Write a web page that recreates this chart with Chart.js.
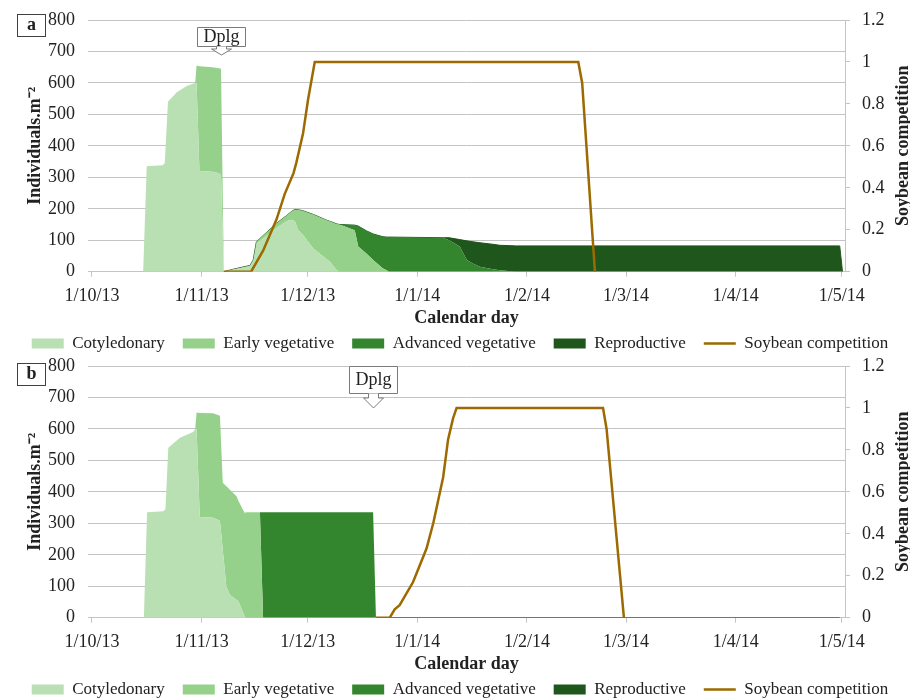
<!DOCTYPE html>
<html>
<head>
<meta charset="utf-8">
<script src="https://cdn.jsdelivr.net/npm/chart.js@4.4.1/dist/chart.umd.min.js"></script>
<style>
  html, body { margin: 0; padding: 0; background: #fff; overflow: hidden; }
  .panel { position: absolute; left: 0; width: 910px; height: 362px; }
  #panelA { top: 0; }
  #panelB { top: 346px; }
</style>
</head>
<body>
<div class="panel" id="panelA"><canvas id="chartA"></canvas></div>
<div class="panel" id="panelB"><canvas id="chartB"></canvas></div>
<script>
// x values are days since 1 Oct 2013
const monthDays = [0, 31, 61, 92, 123, 151, 182, 212];
const monthLabels = ['1/10/13', '1/11/13', '1/12/13', '1/1/14', '1/2/14', '1/3/14', '1/4/14', '1/5/14'];
const stageNames = ['Cotyledonary', 'Early vegetative', 'Advanced vegetative', 'Reproductive'];
const competitionName = 'Soybean competition';

// panel a
const daysA = [0, 14.5, 15.5, 20, 20.6, 21.5, 24, 26.8, 29.2, 29.6, 30.4, 34, 35, 36.5, 37.3, 40, 44.7, 45.6, 46.5, 52.2,
  55, 56.5, 57.4, 58.3, 59.6, 62.6, 66.3, 67.3, 69.2, 70, 74.3, 75.3, 77.6, 79.5, 82.3, 83.3, 84, 99.3, 101, 104,
  106, 107.8, 109.7, 113.4, 115.3, 120, 211.4, 212.2];
const cotA = [0, 0, 335, 338, 345, 540, 570, 590, 600, 600, 320, 318, 316, 310, 0, 8, 18, 35, 88, 140,
  160, 165, 160, 132, 118, 74, 40, 32, 5, 0, 0, 0, 0, 0, 0, 0, 0, 0, 0, 0,
  0, 0, 0, 0, 0, 0, 0, 0];
const earlyA = [0, 0, 0, 0, 0, 0, 0, 0, 0, 55, 333, 332, 332, 335, 0, 0, 2, 2, 7, 14,
  18, 27, 38, 65, 76, 108, 124, 128, 147, 150, 132, 80, 58, 37, 10, 5, 0, 0, 0, 0,
  0, 0, 0, 0, 0, 0, 0, 0];
const advA = [0, 0, 0, 0, 0, 0, 0, 0, 0, 0, 0, 0, 0, 0, 0, 0, 0, 0, 0, 0,
  0, 0, 0, 0, 0, 0, 0, 0, 0, 0, 16, 65, 72, 83, 101, 105, 110, 108, 100, 80,
  37, 25, 16, 8, 5, 0, 0, 0];
const repA = [null, null, null, null, null, null, null, null, null, null, null, null, null, null, 0, 0, 0, 0, 0, 0,
  0, 0, 0, 0, 0, 0, 0, 0, 0, 0, 0, 0, 0, 0, 0, 0, 0, 0, 8, 22,
  61, 70, 76, 79, 79, 82, 82, 0];
const compDaysA = [37.3, 45, 48.4, 52.2, 54.5, 57, 57.8, 59.7, 61.1, 63, 137.5, 138.6, 142.2];
const compA = [0, 0, 0.1, 0.25, 0.37, 0.47, 0.52, 0.66, 0.82, 1, 1, 0.9, 0];

// panel b
const daysB = [0, 14.7, 15.6, 20.2, 20.8, 21.6, 24.9, 28.6, 29.2, 29.6, 30.5, 34.3, 36.2, 37, 38, 38.5, 39, 40.9, 41.4, 43.2,
  43.6, 47.5, 48.4, 79.5, 80.3, 211.4];
const cotB = [0, 0, 335, 338, 345, 540, 572, 590, 600, 600, 320, 318, 308, 216, 100, 86, 73, 56, 52, 4,
  0, 0, 0, 0, 0, 0];
const earlyB = [0, 0, 0, 0, 0, 0, 0, 0, 0, 52, 331, 332, 334, 213, 318, 327, 334, 330, 320, 329,
  335, 335, 0, 0, 0, 0];
const advB = [0, 0, 0, 0, 0, 0, 0, 0, 0, 0, 0, 0, 0, 0, 0, 0, 0, 0, 0, 0,
  0, 0, 335, 335, 0, 0];
const repB = [null, null, null, null, null, null, null, null, null, null, null, null, null, null, null, null, null, null, null, null,
  null, null, null, null, 0, 0];
const compDaysB = [80.3, 84.2, 85.6, 87, 90.8, 94.6, 96.5, 99.3, 100.7, 102.1, 103.1, 144.5, 145.5, 150.4];
const compB = [0, 0, 0.04, 0.06, 0.17, 0.33, 0.45, 0.67, 0.85, 0.95, 1, 1, 0.9, 0];

// Dplg marks: day and left-axis value of the arrow tip
const dplgDays = [36.5, 79.4];
const dplgTips = [690, 666];

const FONT = "'Liberation Serif', 'Times New Roman', serif";
const TEXT = '#222';
const GRID = '#c4c4c4';
const stageColors = ['#b9e0b2', '#95d18a', '#33862e', '#1e561b'];
const compColor = '#9c6a00';

function points(xs, ys) {
  return xs.map((x, i) => ({ x, y: ys[i] }));
}

function stageSet(i, xs, ys) {
  return {
    label: stageNames[i],
    data: points(xs, ys),
    backgroundColor: stageColors[i],
    borderColor: stageColors[i],
    borderWidth: i === 3 ? 1 : 0,
    pointRadius: 0,
    tension: 0,
    fill: i === 0 ? 'origin' : '-1',
    yAxisID: 'y',
    order: 1
  };
}

const panelDecor = {
  id: 'panelDecor',
  afterDraw(chart, args, opts) {
    const { ctx, chartArea, scales } = chart;

    // right axis title, read bottom to top
    ctx.save();
    ctx.fillStyle = TEXT;
    ctx.textAlign = 'center';
    ctx.textBaseline = 'middle';
    ctx.font = `bold 18px ${FONT}`;
    ctx.translate(scales.y1.right - 7, (chartArea.top + chartArea.bottom) / 2);
    ctx.rotate(-Math.PI / 2);
    ctx.fillText(competitionName, 0, 0);
    ctx.restore();

    // panel letter box
    ctx.save();
    const ly = chartArea.top - opts.letterLift;
    ctx.fillStyle = '#fff';
    ctx.strokeStyle = '#404040';
    ctx.lineWidth = 1;
    ctx.fillRect(17.5, ly + 0.5, 28, 22);
    ctx.strokeRect(17.5, ly + 0.5, 28, 22);
    ctx.fillStyle = TEXT;
    ctx.font = `bold 18px ${FONT}`;
    ctx.textAlign = 'center';
    ctx.textBaseline = 'middle';
    ctx.fillText(opts.letter, 31.5, ly + 11.5);
    ctx.restore();

    // Dplg callout
    const cx = Math.round(scales.x.getPixelForValue(opts.dplgDay)) + 0.5;
    const tip = Math.round(scales.y.getPixelForValue(opts.dplgTip));
    const boxBottom = tip - opts.arrowH;
    const boxTop = boxBottom - opts.boxH;
    const neck = boxBottom + Math.round(opts.arrowH * 0.35);
    ctx.save();
    ctx.strokeStyle = '#7a7a7a';
    ctx.fillStyle = '#fff';
    ctx.lineWidth = 1;
    ctx.beginPath();
    ctx.rect(cx - 24, boxTop + 0.5, 48, opts.boxH);
    ctx.fill();
    ctx.stroke();
    ctx.beginPath();
    ctx.moveTo(cx - 5, boxBottom + 0.5);
    ctx.lineTo(cx - 5, neck);
    ctx.lineTo(cx - 10, neck);
    ctx.lineTo(cx, tip);
    ctx.lineTo(cx + 10, neck);
    ctx.lineTo(cx + 5, neck);
    ctx.lineTo(cx + 5, boxBottom + 0.5);
    ctx.fill();
    ctx.stroke();
    ctx.fillStyle = TEXT;
    ctx.font = `18px ${FONT}`;
    ctx.textAlign = 'center';
    ctx.textBaseline = 'middle';
    ctx.fillText('Dplg', cx, boxTop + opts.boxH / 2 + 1);
    ctx.restore();
  }
};

function makePanel(canvasId, days, stages, compDays, comp, decor) {
  const datasets = stages.map((ys, i) => stageSet(i, days, ys));
  datasets.push({
    label: competitionName,
    data: points(compDays, comp),
    borderColor: compColor,
    backgroundColor: compColor,
    borderWidth: 2.5,
    pointRadius: 0,
    tension: 0,
    fill: false,
    yAxisID: 'y1',
    order: 0
  });

  return new Chart(document.getElementById(canvasId), {
    type: 'line',
    data: { datasets },
    plugins: [panelDecor],
    options: {
      responsive: true,
      maintainAspectRatio: false,
      animation: false,
      layout: { padding: { top: 20, right: 0, bottom: 0, left: 10 } },
      plugins: {
        tooltip: { enabled: false },
        panelDecor: decor,
        legend: {
          position: 'bottom',
          labels: {
            usePointStyle: true,
            pointStyleWidth: 32,
            boxHeight: 10,
            padding: 18,
            color: TEXT,
            font: { family: FONT, size: 17 },
            generateLabels: (chart) => chart.data.datasets.map((ds, i) => {
              const isLine = ds.yAxisID === 'y1';
              return {
                text: ds.label,
                datasetIndex: i,
                hidden: false,
                fillStyle: ds.backgroundColor,
                strokeStyle: ds.borderColor,
                lineWidth: isLine ? 2.5 : 0,
                pointStyle: isLine ? 'line' : 'rect',
                fontColor: TEXT
              };
            })
          }
        }
      },
      scales: {
        x: {
          type: 'linear',
          min: -1.1,
          max: 212.9,
          afterBuildTicks: (s) => { s.ticks = monthDays.map((v) => ({ value: v })); },
          afterFit: (s) => { s.height = 45.3; },
          ticks: {
            padding: 9,
            autoSkip: false,
            maxRotation: 0,
            color: TEXT,
            font: { family: FONT, size: 18 },
            callback: (v, i) => monthLabels[i]
          },
          grid: { drawOnChartArea: false, tickLength: 5, color: GRID },
          border: { color: GRID },
          title: {
            display: true,
            text: 'Calendar day',
            color: TEXT,
            font: { family: FONT, size: 18, weight: 'bold' },
            padding: { top: 0, bottom: -11.8 }
          }
        },
        y: {
          stacked: true,
          min: 0,
          max: 800,
          afterFit: (s) => { s.width = 78; },
          ticks: { stepSize: 100, padding: 13, color: TEXT, font: { family: FONT, size: 18, lineHeight: 0.5 } },
          grid: { color: GRID, drawTicks: false },
          border: { display: false },
          title: {
            display: true,
            text: 'Individuals.m⁻²',
            color: TEXT,
            font: { family: FONT, size: 18, weight: 'bold' },
            padding: { top: 15, bottom: 0 }
          }
        },
        y1: {
          position: 'right',
          min: 0,
          max: 1.2,
          afterFit: (s) => { s.width = 65; },
          ticks: {
            stepSize: 0.2,
            padding: 12,
            color: TEXT,
            font: { family: FONT, size: 18, lineHeight: 0.5 },
            callback: (v) => String(Math.round(v * 10) / 10)
          },
          grid: { drawOnChartArea: false, tickLength: 5, color: GRID },
          border: { color: GRID }
        }
      }
    }
  });
}

makePanel('chartA', daysA, [cotA, earlyA, advA, repA], compDaysA, compA,
  { letter: 'a', letterLift: 6, dplgDay: dplgDays[0], dplgTip: dplgTips[0], boxH: 19, arrowH: 9 });
makePanel('chartB', daysB, [cotB, earlyB, advB, repB], compDaysB, compB,
  { letter: 'b', letterLift: 3, dplgDay: dplgDays[1], dplgTip: dplgTips[1], boxH: 27, arrowH: 15 });
</script>
</body>
</html>
